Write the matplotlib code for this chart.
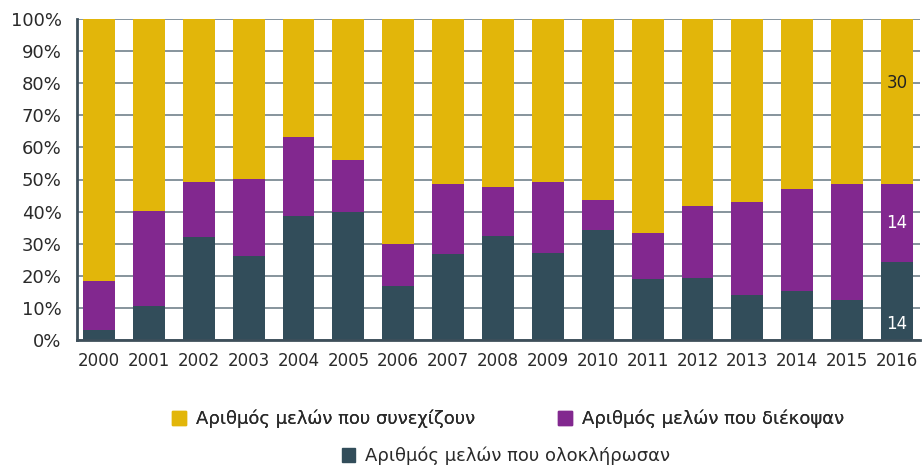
import matplotlib
matplotlib.use("Agg")
import matplotlib.pyplot as plt
from matplotlib.patches import Patch
import numpy as np

plt.rcParams['font.family'] = ['DejaVu Sans']

years = [str(y) for y in range(2000, 2017)]
completed = [3.1, 10.7, 32.1, 26.2, 38.7, 40.0, 16.9, 26.9, 32.4, 27.1, 34.3, 19.0, 19.4, 14.0, 15.3, 12.5, 24.3]
dropped_top = [18.4, 40.2, 49.2, 50.2, 63.2, 56.1, 29.9, 48.6, 47.7, 49.2, 43.6, 33.3, 41.7, 43.0, 47.0, 48.6, 48.6]
dropped = [t - c for t, c in zip(dropped_top, completed)]
continuing = [100 - t for t in dropped_top]
labels_2016 = ["14", "14", "30"]

names = ["Αριθμός μελών που ολοκλήρωσαν", "Αριθμός μελών που διέκοψαν", "Αριθμός μελών που συνεχίζουν"]
c_dark = "#324d5a"
c_purple = "#82288f"
c_yellow = "#e2b60a"

fig = plt.figure(figsize=(9.22, 4.68), dpi=100)
ax = fig.add_axes([77/922, 1 - 340/468, (920-77)/922, (340-19)/468])

x = np.arange(len(years))
w = 0.64
ax.bar(x, completed, w, color=c_dark, zorder=3)
ax.bar(x, dropped, w, bottom=completed, color=c_purple, zorder=3)
ax.bar(x, continuing, w, bottom=dropped_top, color=c_yellow, zorder=3)

ax.set_xlim(-0.44, len(years) - 1 + 0.46)
ax.set_ylim(0, 100)
ax.set_yticks(np.arange(0, 101, 10))
ax.set_yticklabels([f"{v}%" for v in range(0, 101, 10)], fontsize=13, color="#2a2a2a")
ax.set_xticks(x)
ax.set_xticklabels(years, fontsize=12, color="#2a2a2a")
ax.tick_params(axis='y', length=0, pad=11)
ax.tick_params(axis='x', length=0, pad=9)
ax.yaxis.grid(True, color="#7d8b94", linewidth=1.3, zorder=0)
for s in ["top", "right"]:
    ax.spines[s].set_visible(False)
for s in ["left", "bottom"]:
    ax.spines[s].set_color("#3d4f5a")
    ax.spines[s].set_linewidth(2)
    ax.spines[s].set_zorder(4)

i = len(years) - 1
ax.text(x[i], completed[i] * 0.2, labels_2016[0], color="white", ha="center", va="center", fontsize=12, zorder=5)
ax.text(x[i], completed[i] + dropped[i] / 2, labels_2016[1], color="white", ha="center", va="center", fontsize=12, zorder=5)
ax.text(x[i], dropped_top[i] + continuing[i] * 0.61, labels_2016[2], color="#222222", ha="center", va="center", fontsize=12, zorder=5)

h_y = Patch(color=c_yellow)
h_p = Patch(color=c_purple)
h_d = Patch(color=c_dark)
leg1 = fig.legend([h_y, h_p], [names[2], names[1]], loc="center", bbox_to_anchor=(0.551, 1 - 419/468),
                  ncol=2, frameon=False, fontsize=13, handlelength=0.75, handleheight=0.75,
                  columnspacing=4.6, handletextpad=0.55, labelcolor="#2a2a2a")
fig.legend([h_d], [names[0]], loc="center", bbox_to_anchor=(0.549, 1 - 456/468),
           frameon=False, fontsize=13, handlelength=0.75, handleheight=0.75, handletextpad=0.55,
           labelcolor="#2a2a2a")
fig.add_artist(leg1)

fig.savefig("out.png", dpi=100)
